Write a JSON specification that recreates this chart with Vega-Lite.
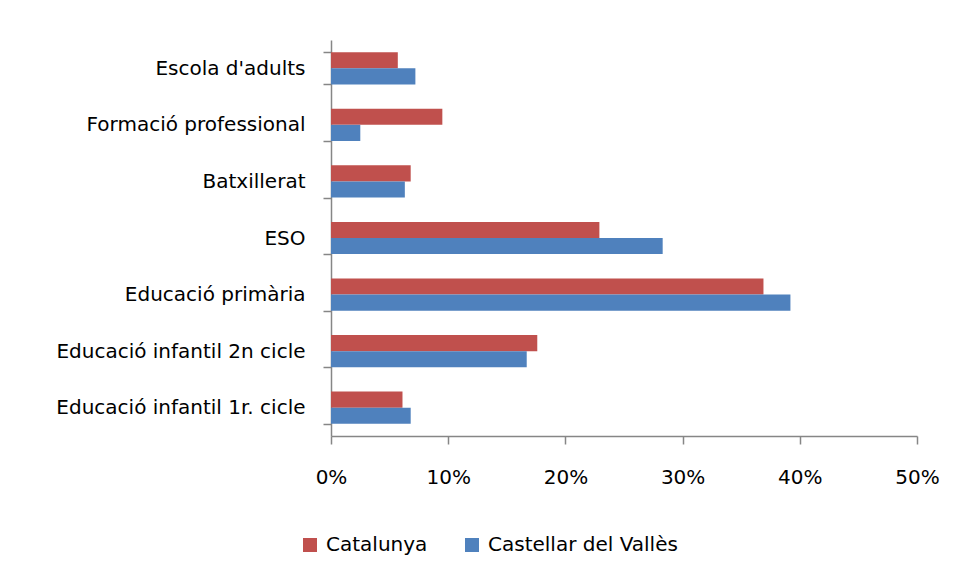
{
  "$schema": "https://vega.github.io/schema/vega-lite/v6.json",
  "autosize": "none",
  "width": 586,
  "height": 396,
  "padding": {"left": 331, "top": 40, "right": 40, "bottom": 142},
  "background": "white",
  "config": {
    "font": "DejaVu Sans",
    "view": {"stroke": null},
    "axis": {"domainColor": "#868686", "tickColor": "#868686", "labelColor": "#000000", "labelFont": "DejaVu Sans", "labelFontSize": 20, "grid": false, "title": null, "tickSize": 8, "domainWidth": 1.5, "tickWidth": 1.5},
    "legend": {"labelFont": "DejaVu Sans", "labelFontSize": 20, "labelColor": "#000000", "labelLimit": 400}
  },
  "data": {
    "values": [
      {"nivell": "Escola d'adults", "zona": "Catalunya", "valor": 0.057},
      {"nivell": "Escola d'adults", "zona": "Castellar del Vallès", "valor": 0.072},
      {"nivell": "Formació professional", "zona": "Catalunya", "valor": 0.095},
      {"nivell": "Formació professional", "zona": "Castellar del Vallès", "valor": 0.025},
      {"nivell": "Batxillerat", "zona": "Catalunya", "valor": 0.068},
      {"nivell": "Batxillerat", "zona": "Castellar del Vallès", "valor": 0.063},
      {"nivell": "ESO", "zona": "Catalunya", "valor": 0.229},
      {"nivell": "ESO", "zona": "Castellar del Vallès", "valor": 0.283},
      {"nivell": "Educació primària", "zona": "Catalunya", "valor": 0.369},
      {"nivell": "Educació primària", "zona": "Castellar del Vallès", "valor": 0.392},
      {"nivell": "Educació infantil 2n cicle", "zona": "Catalunya", "valor": 0.176},
      {"nivell": "Educació infantil 2n cicle", "zona": "Castellar del Vallès", "valor": 0.167},
      {"nivell": "Educació infantil 1r. cicle", "zona": "Catalunya", "valor": 0.061},
      {"nivell": "Educació infantil 1r. cicle", "zona": "Castellar del Vallès", "valor": 0.068}
    ]
  },
  "mark": {"type": "bar"},
  "encoding": {
    "y": {
      "field": "nivell", "type": "nominal",
      "sort": ["Escola d'adults", "Formació professional", "Batxillerat", "ESO", "Educació primària", "Educació infantil 2n cicle", "Educació infantil 1r. cicle"],
      "scale": {"paddingInner": 0.43, "paddingOuter": 0.215},
      "axis": {"tickBand": "extent", "labelPadding": 18, "labelLimit": 400}
    },
    "yOffset": {
      "field": "zona", "type": "nominal",
      "sort": ["Catalunya", "Castellar del Vallès"]
    },
    "x": {
      "field": "valor", "type": "quantitative",
      "scale": {"domain": [0, 0.5], "nice": false},
      "axis": {"values": [0, 0.1, 0.2, 0.3, 0.4, 0.5], "format": ".0%", "labelPadding": 23, "labelFlush": false}
    },
    "color": {
      "field": "zona", "type": "nominal",
      "scale": {"domain": ["Catalunya", "Castellar del Vallès"], "range": ["#C0504D", "#4F81BD"]},
      "legend": {"title": null, "orient": "none", "direction": "horizontal", "legendX": -31, "legendY": 495, "symbolType": "square", "symbolSize": 196, "symbolStrokeWidth": 0, "symbolOpacity": 1, "labelOffset": 6, "columnPadding": 34}
    }
  }
}
